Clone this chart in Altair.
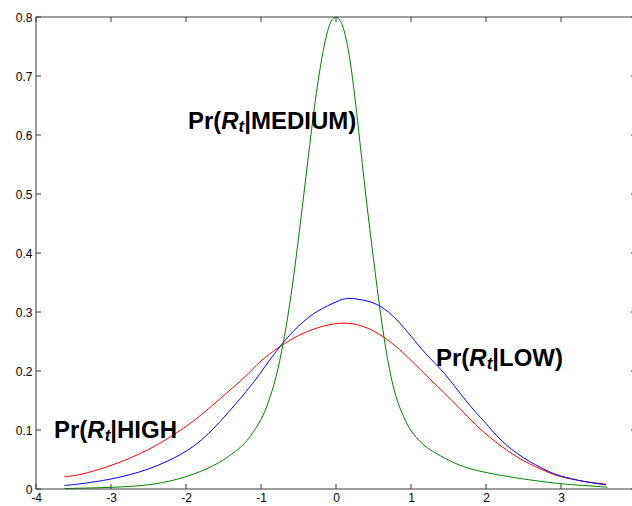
import altair as alt
import pandas as pd

# Conditional densities of the return R_t under each regime
high_x = [-3.62, -3.4, -3.0, -2.5, -2.0, -1.6, -1.2, -1.0, -0.75, -0.5, -0.25, 0.05,
          0.35, 0.63, 0.85, 1.0, 1.2, 1.45, 1.7, 1.92, 2.2, 2.5, 2.8, 3.0, 3.3, 3.6]
high_y = [0.021, 0.025, 0.040, 0.067, 0.106, 0.147, 0.192, 0.217, 0.241, 0.260, 0.273, 0.281,
          0.276, 0.258, 0.236, 0.218, 0.193, 0.162, 0.130, 0.102, 0.073, 0.048, 0.030, 0.021, 0.013, 0.008]

low_x = [-3.62, -3.4, -3.0, -2.5, -2.0, -1.6, -1.2, -1.0, -0.75, -0.5, -0.25, 0.0, 0.17,
         0.4, 0.6, 0.8, 1.0, 1.2, 1.45, 1.7, 1.9, 2.0, 2.2, 2.5, 2.8, 3.0, 3.3, 3.6]
low_y = [0.006, 0.009, 0.017, 0.034, 0.064, 0.107, 0.165, 0.198, 0.241, 0.276, 0.301, 0.317, 0.323,
         0.319, 0.309, 0.288, 0.259, 0.229, 0.195, 0.155, 0.125, 0.111, 0.083, 0.053, 0.032, 0.022, 0.013, 0.007]

med_x = [-3.62, -3.2, -2.8, -2.4, -2.0, -1.6, -1.3, -1.15, -1.0, -0.9, -0.8, -0.7, -0.6,
         -0.5, -0.4, -0.3, -0.2, -0.1, 0.0, 0.1, 0.2, 0.3, 0.4, 0.5, 0.6, 0.7, 0.8, 0.9,
         1.0, 1.15, 1.3, 1.5, 1.7, 2.0, 2.5, 3.0, 3.3, 3.62]
med_y = [0.0008, 0.002, 0.004, 0.009, 0.021, 0.042, 0.068, 0.088, 0.118, 0.148, 0.190, 0.250, 0.328,
         0.425, 0.530, 0.635, 0.722, 0.781, 0.800, 0.780, 0.715, 0.610, 0.495, 0.390, 0.292, 0.212, 0.157, 0.123,
         0.099, 0.077, 0.063, 0.049, 0.038, 0.028, 0.017, 0.009, 0.006, 0.003]

series_names = ["HIGH", "LOW", "MEDIUM"]
series_colors = ["#ff0000", "#0000ff", "#008000"]

x_ticks = [-4, -3, -2, -1, 0, 1, 2, 3, 4]
x_tick_labels = [-4, -3, -2, -1, 0, 1, 2, 3]
y_ticks = [0, 0.1, 0.2, 0.3, 0.4, 0.5, 0.6, 0.7, 0.8]

# Curve annotations: anchor point (data units) and the text after "Pr(R_t"
label_x = [-1.975, 1.333, -3.76]
label_y = [0.610, 0.209, 0.0864]
label_rest = ["|MEDIUM)", "|LOW)", "|HIGH"]

curves = pd.concat([
    pd.DataFrame({"x": high_x, "y": high_y, "regime": "HIGH"}),
    pd.DataFrame({"x": low_x, "y": low_y, "regime": "LOW"}),
    pd.DataFrame({"x": med_x, "y": med_y, "regime": "MEDIUM"}),
], ignore_index=True)
xt = pd.DataFrame({"t": x_ticks})
yt = pd.DataFrame({"t": y_ticks})
labels = pd.DataFrame({"x": label_x, "y": label_y, "rest": label_rest})

FONT = "Liberation Sans"
W, H = 600, 472
xs = alt.Scale(domain=[-4, 4], range=[0, W], nice=False, zero=False)
ys = alt.Scale(domain=[0, 0.8], nice=False, zero=False)

lines = alt.Chart(curves).mark_line(strokeWidth=1, interpolate="natural").encode(
    x=alt.X("x:Q", scale=xs, title="",
            axis=alt.Axis(values=x_tick_labels, labelExpr="toString(datum.value)", ticks=False,
                          tickSize=0, domain=False, grid=False, labelFont=FONT, labelFontSize=12,
                          labelColor="black", labelPadding=3, labelFlush=False, labelOverlap=False)),
    y=alt.Y("y:Q", scale=ys, title="",
            axis=alt.Axis(values=y_ticks, format=".1~f", ticks=False, tickSize=0, domain=False,
                          grid=False, labelFont=FONT, labelFontSize=12, labelColor="black",
                          labelPadding=4, labelFlush=False, labelOverlap=False)),
    color=alt.Color("regime:N", scale=alt.Scale(domain=series_names, range=series_colors), legend=None),
)

FRAME = "#3a3a3a"
frame = alt.layer(
    alt.Chart().mark_rule(color=FRAME, strokeWidth=1).encode(x=alt.datum(-4), x2=alt.datum(4), y=alt.datum(0)),
    alt.Chart().mark_rule(color=FRAME, strokeWidth=1).encode(x=alt.datum(-4), x2=alt.datum(4), y=alt.datum(0.8)),
    alt.Chart().mark_rule(color=FRAME, strokeWidth=1).encode(x=alt.datum(-4), y=alt.datum(0), y2=alt.datum(0.8)),
    alt.Chart().mark_rule(color=FRAME, strokeWidth=1).encode(x=alt.datum(4), y=alt.datum(0), y2=alt.datum(0.8)),
)

TL = 5
tick_bottom = alt.Chart(xt).mark_rule(color=FRAME).encode(x="t:Q", y=alt.value(H), y2=alt.value(H - TL))
tick_top = alt.Chart(xt).mark_rule(color=FRAME).encode(x="t:Q", y=alt.value(0), y2=alt.value(TL))
tick_left = alt.Chart(yt).mark_rule(color=FRAME).encode(y="t:Q", x=alt.value(0), x2=alt.value(TL))
tick_right = alt.Chart(yt).mark_rule(color=FRAME).encode(y="t:Q", x=alt.value(W), x2=alt.value(W - TL))

BIG, SUB = 24, 17
base = alt.Chart(labels).encode(x="x:Q", y="y:Q")
txt_pr = base.mark_text(align="left", baseline="alphabetic", font=FONT, fontSize=BIG,
                        fontWeight="bold", color="black").encode(text=alt.value("Pr("))
txt_r = base.mark_text(align="left", baseline="alphabetic", font=FONT, fontSize=BIG,
                       fontWeight="bold", fontStyle="italic", color="black",
                       dx=1.389 * BIG).encode(text=alt.value("R"))
txt_t = base.mark_text(align="left", baseline="alphabetic", font=FONT, fontSize=SUB,
                       fontWeight="bold", fontStyle="italic", color="black",
                       dx=(1.389 + 0.722) * BIG, dy=3).encode(text=alt.value("t"))
txt_rest = base.mark_text(align="left", baseline="alphabetic", font=FONT, fontSize=BIG,
                          fontWeight="bold", color="black",
                          dx=(1.389 + 0.722) * BIG + 0.333 * SUB).encode(text="rest:N")

chart = alt.layer(
    lines, frame, tick_bottom, tick_top, tick_left, tick_right,
    txt_pr, txt_r, txt_t, txt_rest,
).properties(
    width=596, height=H,
    padding={"left": 36, "top": 17, "right": 0, "bottom": 17},
    autosize=alt.AutoSizeParams(type="none"),
    background="white",
).configure_view(stroke=None)

chart.save("out.html", embed_options={"renderer": "svg", "actions": False})
